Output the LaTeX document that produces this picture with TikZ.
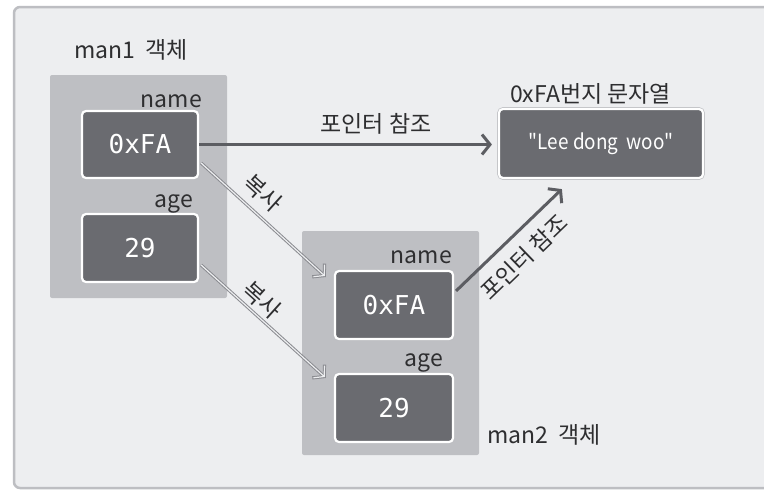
\documentclass[tikz,border=0pt]{standalone}
\usepackage{fontspec}
\setmainfont{Noto Sans CJK KR}
\newfontfamily\boxmono{DejaVu Sans Mono}
\newfontfamily\strfont{Noto Sans CJK KR}
\usetikzlibrary{arrows.meta,calc}
\definecolor{framebg}{HTML}{EDEEF0}
\definecolor{frameline}{HTML}{BDBEC2}
\definecolor{objfill}{HTML}{BEBFC3}
\definecolor{cellfill}{HTML}{6A6B70}
\definecolor{txt}{HTML}{2E2E30}
\definecolor{ptrcol}{HTML}{5C5D62}
\definecolor{copycol}{HTML}{8A8B90}
\tikzset{
  objbox/.style={fill=objfill, rounded corners=2pt, inner sep=0pt},
  cellbox/.style={fill=cellfill, draw=white, line width=2.2pt, rounded corners=4pt,
    preaction={draw=frameline, line width=3.6pt}, inner sep=0pt,
    text=white, font=\boxmono\fontsize{26}{30}\selectfont},
  lbl/.style={text=txt, font=\fontsize{23}{27}\selectfont, inner sep=0pt},
  ptr/.style={draw=ptrcol, line width=3pt, -{Straight Barb[length=8pt,width=20pt,line width=3pt]}},
  copyout/.style={draw=copycol, line width=3.2pt, -{Straight Barb[length=8pt,width=18pt,line width=3.2pt]}},
  copyin/.style={draw=framebg, line width=1.2pt, shorten >=1.4pt, -{Straight Barb[length=7.2pt,width=16.4pt,line width=1.2pt]}},
}
\begin{document}
\begin{tikzpicture}[x=1pt,y=-1pt]
\useasboundingbox (0,0) rectangle (764,490);
% frame
\fill[white] (0,0) rectangle (764,490);
\draw[fill=framebg, draw=frameline, line width=2.5pt, rounded corners=6pt] (14,7) rectangle (790,488);
% objects
\node[objbox, minimum width=177pt, minimum height=223pt] (m1) at (138.5,186.5) {};
\node[objbox, minimum width=177pt, minimum height=224pt] (m2) at (390.5,343) {};
% cells
\node[cellbox, minimum width=116pt, minimum height=67pt] (n1) at (140,144.5) {0xFA};
\node[cellbox, minimum width=116pt, minimum height=68pt] (a1) at (140,248) {29};
\node[cellbox, minimum width=118pt, minimum height=68pt] (n2) at (394,305) {0xFA};
\node[cellbox, minimum width=118pt, minimum height=68pt] (a2) at (394,408) {29};
\node[cellbox, minimum width=204pt, minimum height=69pt, font=\strfont\fontsize{21}{25}\selectfont] (str) at (601,143.5) {\scalebox{0.9}[1]{"Lee dong \ woo"}};
% labels
\node[lbl, anchor=base west] (l1) at (74,58) {man1 \ 객체};
\node[lbl, anchor=base west] (l2) at (487,443) {man2 \ 객체};
\node[lbl, anchor=base east] (nm1) at (202,107) {name};
\node[lbl, anchor=base east] (ag1) at (193,207) {age};
\node[lbl, anchor=base east] (nm2) at (452,263) {name};
\node[lbl, anchor=base east] (ag2) at (443,366) {age};
\node[lbl, anchor=base west] (sl) at (510,102) {0xFA번지 문자열};
% pointer arrows
\draw[ptr, shorten >=6pt] (n1.east) -- (str.west |- n1.east);
\coordinate (p2s) at ($(n2.north east)+(2,21)$);
\coordinate (p2e) at ($(str.south west)+(64,10)$);
\draw[ptr] (p2s) -- (p2e);
\node[lbl, anchor=base] (pl1) at (376,132) {포인터 참조};
\node[lbl, rotate=44] (pl2) at (524,257) {포인터 참조};
% copy arrows
\coordinate (c1s) at ($(n1.east)+(2,18.5)$);
\coordinate (c1e) at ($(n2.west)+(-8,-28)$);
\coordinate (c2s) at ($(a1.east)+(2,17)$);
\coordinate (c2e) at ($(a2.west)+(-8,-30)$);
\draw[copyout] (c1s) -- (c1e);
\draw[copyin] (c1s) -- (c1e);
\draw[copyout] (c2s) -- (c2e);
\draw[copyin] (c2s) -- (c2e);
\node[lbl, rotate=-42] (cl1) at (263,193) {복사};
\node[lbl, rotate=-42] (cl2) at (262,300) {복사};
\end{tikzpicture}
\end{document}
